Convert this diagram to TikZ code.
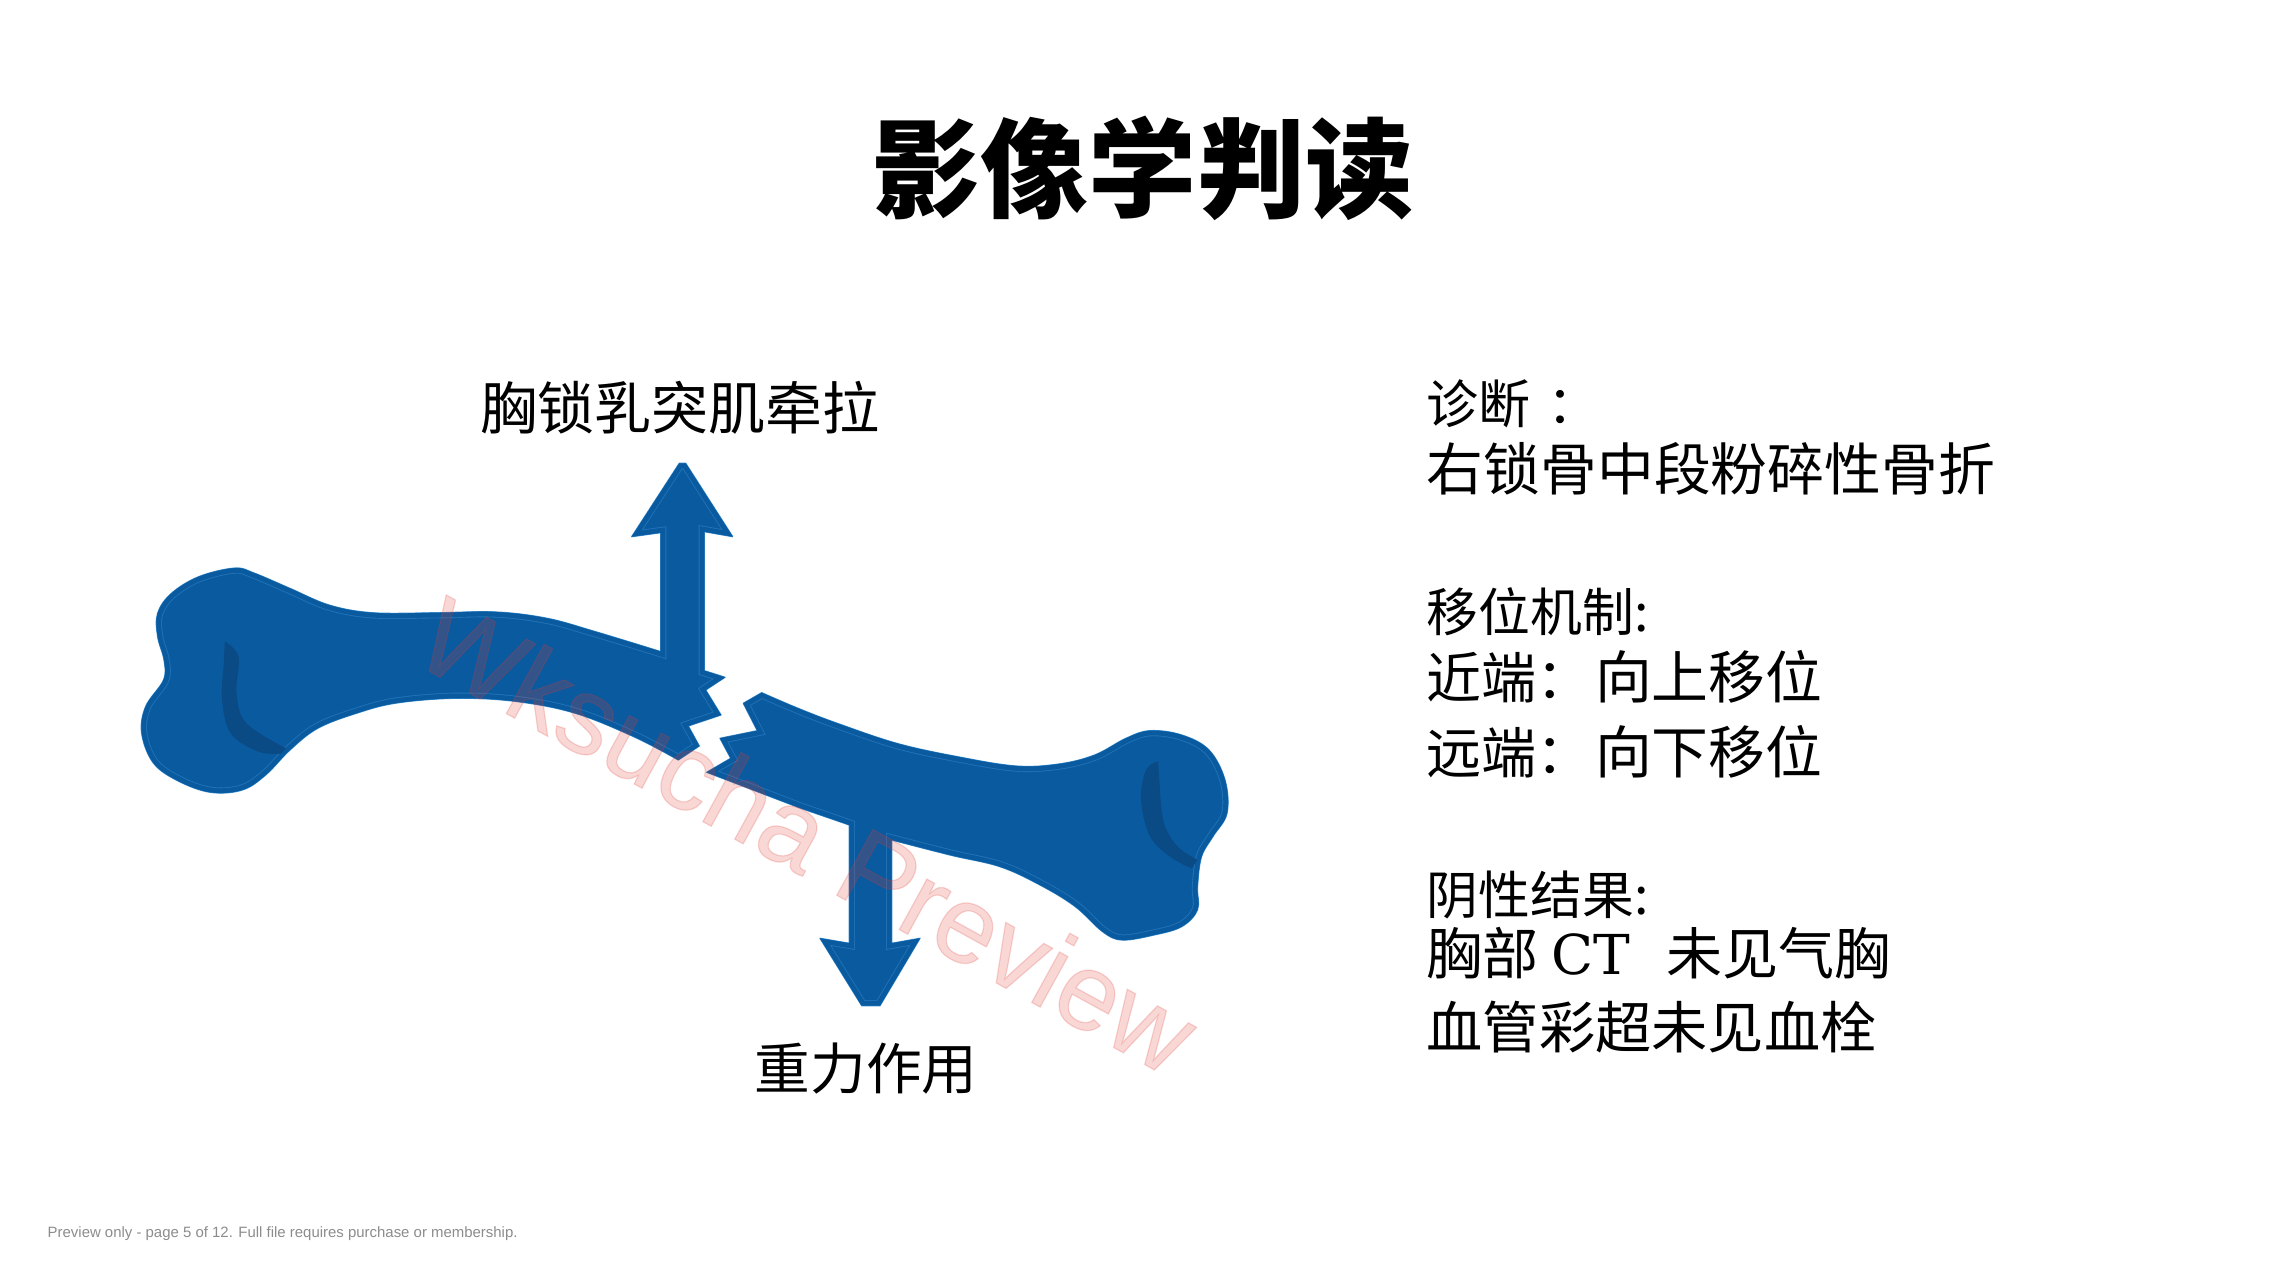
\documentclass[tikz,border=0pt]{standalone}
\usepackage{fontspec}
\setmainfont{Liberation Sans}
\newfontfamily\cjk{Noto Sans CJK SC}
\newfontfamily\serifcap{DejaVu Serif}
\newfontfamily\markfont[FakeBold=1.1]{Liberation Sans}
\definecolor{boneblue}{HTML}{0A5AA0}
\definecolor{bonedark}{HTML}{0A4A85}
\definecolor{boneline}{HTML}{2272B8}
\definecolor{boneedge}{HTML}{3C8FCF}
\definecolor{markred}{HTML}{E03A30}
% Font size given by the glyph pitch in picture units (0.01cm = 0.2845pt)
\newcommand{\cjksize}[1]{\fontsize{\dimexpr#1\dimexpr0.2845pt\relax\relax}{\dimexpr#1\dimexpr0.34pt\relax\relax}\selectfont}
% Left fragment with its upward arrow
\newcommand{\leftbone}{
  plot[smooth,tension=0.6] coordinates {(660.7,651.6)(594.5,631.4)(547,618.3)(495.6,612)(436,612.8)(373,612.8)(329.6,605.2)(290,588.4)(254.4,573.2)(234.7,568.1)(199,576.6)(171.4,593.4)(157.6,613.3)(157.6,636.4)(164,660)(163.5,680)(145.7,706.4)(141.7,733.4)(153.6,763.3)(179,781.4)(211,792.4)(242.6,789.9)(266,774.7)(290,750)(317.7,728.3)(357,713.1)(396.8,703)(456,698.3)(515.4,701.4)(574.7,713.1)(634,736.8)(678.3,760)}
  -- (699.3,746) -- (688.3,726) -- (721,715) -- (705.7,690) -- (725,677.3) -- (704.3,670.7)
  -- (704.3,531.7) -- (732.7,536.7) -- (685.7,463.3) -- (679.3,463.3) -- (631.7,536.7) -- (660.7,532.7) -- cycle}
% Right fragment with its downward arrow
\newcommand{\rightbone}{
  plot[smooth,tension=0.6] coordinates {(761.7,692.7)(798,708.3)(837.7,723.5)(897,743.4)(956,756.4)(1015.6,766)(1059,764)(1094.7,755)(1126,738.3)(1150,730.7)(1181.7,735)(1209,750)(1225,780)(1227,813.3)(1213,836.4)(1201.5,856.7)(1197.5,886.7)(1197.5,909.8)(1181.7,926.6)(1154,935)(1122,940)(1102.6,931.7)(1075,906.4)(1040,885)(1000,866.7)(950,855)(891.7,840)}
  -- (891.7,943.3) -- (920,938.3) -- (880,1005.7) -- (861.7,1005.7) -- (820,938.3) -- (849.3,943.3) -- (849.3,825)
  -- (800,808) -- (706.7,772.3) -- (730.7,758.3) -- (720,738.3) -- (757.3,730.7) -- (743.3,703.3) -- cycle}
\tikzset{
  bonefill/.style={fill=boneblue,draw=boneedge,line width=0.35pt,line join=round},
  insetline/.style={draw=boneline,line width=3.2pt,line join=miter},
  insetcover/.style={draw=boneblue,line width=2.7pt,line join=miter},
  creasemark/.style={fill=bonedark},
  textline/.style={anchor=west,inner sep=0pt,text=black},
  caption/.style={anchor=center,inner sep=0pt,text=black},
}
\begin{document}
\begin{tikzpicture}[x=0.01cm,y=-0.01cm]
\useasboundingbox (0,0) rectangle (2294,1280);
\fill[white] (0,0) rectangle (2294,1280);

% Title
\node[caption,font=\cjk\bfseries\cjksize{108}] (title) at (1143,168) {影像学判读};

% Bone fragments
\path[bonefill] \rightbone;
\begin{scope}
  \clip \rightbone;
  \path[insetline] \rightbone;
  \path[insetcover] \rightbone;
\end{scope}
\path[bonefill] \leftbone;
\begin{scope}
  \clip \leftbone;
  \path[insetline] \leftbone;
  \path[insetcover] \leftbone;
\end{scope}

% Darker creases at the bone ends
\fill[creasemark] plot[smooth,tension=0.6] coordinates {(224.8,641.5)(238.6,656.7)(236.6,693.3)(246.5,723.3)(286,748.4)} -- plot[smooth,tension=0.6] coordinates {(281,753.6)(258.4,751.7)(230.7,733.4)(222,700)(223.6,666.8)} -- cycle;
\fill[creasemark] plot[smooth,tension=0.6] coordinates {(1158,761.4)(1146,770)(1141,800)(1150,836.4)(1170,856.7)(1191.6,868.5)} -- plot[smooth,tension=0.6] coordinates {(1197.5,860)(1177.7,846.6)(1164,823.4)(1160,790)} -- cycle;

% Force labels
\node[caption,font=\cjk\cjksize{57}] (pull) at (680,408) {胸锁乳突肌牵拉};
\node[caption,font=\cjk\cjksize{55.6}] (gravity) at (866,1069) {重力作用};

% Findings column
\node[textline,font=\cjk\cjksize{52}] (diag) at (1426,404) {诊断\hspace{0.32em}：};
\node[textline,font=\cjk\cjksize{56.8}] (diagtext) at (1426,469) {右锁骨中段粉碎性骨折};
\node[textline,font=\cjk\cjksize{51.8}] (mech) at (1426,612) {移位机制:};
\node[textline,font=\cjk\cjksize{55}] (prox) at (1426,677) {近端：\hspace{0.06em}{\cjksize{56.8}向上移位}};
\node[textline,font=\cjk\cjksize{55}] (dist) at (1426,752) {远端：\hspace{0.06em}{\cjksize{56.8}向下移位}};
\node[textline,font=\cjk\cjksize{51.8}] (neg) at (1426,895) {阴性结果:};
\node[textline,font=\cjk\cjksize{56}] (chest) at (1426,953) {胸部 {\serifcap\cjksize{55}CT}\hspace{0.65em}未见气胸};
\node[textline,font=\cjk\cjksize{56.2}] (vessel) at (1426,1027) {血管彩超未见血栓};

% Overlaid preview mark
\node[anchor=center,inner sep=0pt,rotate=-28.8,text=markred,text opacity=0.2,font=\markfont\fontsize{31pt}{36pt}\selectfont] (mark) at (808,835) {Wksucha Preview};

% Footer note
\node[anchor=west,inner sep=0pt,text=black!45,font=\fontsize{4.25pt}{6pt}\selectfont] (foot) at (47,1234) {Preview only - page 5 of 12. Full file requires purchase or membership.};
\end{tikzpicture}
\end{document}
